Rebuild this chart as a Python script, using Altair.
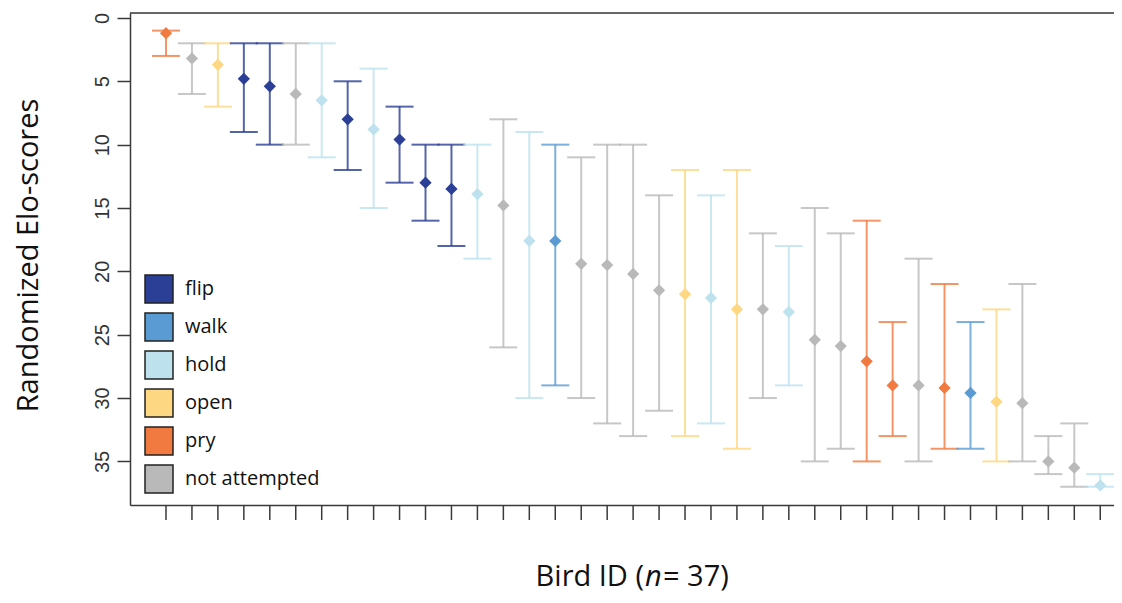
import altair as alt
import pandas as pd

# ---- data ----
birds = list(range(1, 38))
tactic = ["pry", "not attempted", "open", "flip", "flip", "not attempted", "hold", "flip", "hold", "flip",
          "flip", "flip", "hold", "not attempted", "hold", "walk", "not attempted", "not attempted", "not attempted", "not attempted",
          "open", "hold", "open", "not attempted", "hold", "not attempted", "not attempted", "pry", "pry", "not attempted",
          "pry", "walk", "open", "not attempted", "not attempted", "not attempted", "hold"]
score = [1.2, 3.2, 3.7, 4.8, 5.4, 6.0, 6.5, 8.0, 8.8, 9.6,
         13.0, 13.5, 13.9, 14.8, 17.6, 17.6, 19.4, 19.5, 20.2, 21.5,
         21.8, 22.1, 23.0, 23.0, 23.2, 25.4, 25.9, 27.1, 29.0, 29.0,
         29.2, 29.6, 30.3, 30.4, 35.0, 35.5, 36.9]
lower = [1, 2, 2, 2, 2, 2, 2, 5, 4, 7,
         10, 10, 10, 8, 9, 10, 11, 10, 10, 14,
         12, 14, 12, 17, 18, 15, 17, 16, 24, 19,
         21, 24, 23, 21, 33, 32, 36]
upper = [3, 6, 7, 9, 10, 10, 11, 12, 15, 13,
         16, 18, 19, 26, 30, 29, 30, 32, 33, 31,
         33, 32, 34, 30, 29, 35, 34, 35, 33, 35,
         34, 34, 35, 35, 36, 37, 37]
categories = ["flip", "walk", "hold", "open", "pry", "not attempted"]
colors = ["#2B3F96", "#5B9BD3", "#BDE2EE", "#FDD782", "#F07A40", "#B9B9B9"]
y_ticks = [0, 5, 10, 15, 20, 25, 30, 35]

df = pd.DataFrame({"bird": birds, "tactic": tactic, "score": score,
                   "lower": lower, "upper": upper})

W, H = 984, 492
FRAME = "#3a3a3a"

xscale = alt.Scale(domain=[-0.387, 37.53], nice=False, zero=False)
yscale = alt.Scale(domain=[-0.39, 38.44], reverse=True, nice=False, zero=False)
cscale = alt.Scale(domain=categories, range=colors)

legend = alt.Legend(title=None, orient="none", legendX=14, legendY=261,
                    symbolType="square", symbolSize=784,
                    symbolStrokeColor="#222222", symbolStrokeWidth=1.5,
                    symbolOpacity=1,
                    labelFont="Open Sans", labelFontSize=20, labelColor="#111111",
                    labelOffset=11, rowPadding=4, padding=0)
color_leg = alt.Color("tactic:N", scale=cscale, legend=legend)
color_enc = alt.Color("tactic:N", scale=cscale, legend=None)

x_enc = alt.X("bird:Q", scale=xscale,
              axis=alt.Axis(values=birds, labels=False, ticks=False, title=None, grid=False,
                            domainColor=FRAME, domainWidth=1.5))
y_axis = alt.Axis(values=y_ticks, title="Randomized Elo-scores", grid=False,
                  tickSize=13, tickWidth=1.5, tickColor=FRAME,
                  domainColor=FRAME, domainWidth=1.5,
                  labelAngle=270, labelAlign="center", labelBaseline="bottom",
                  labelPadding=5, labelFont="Liberation Sans", labelFontSize=20,
                  labelColor="#333333",
                  titleFont="Open Sans", titleFontSize=29, titleFontWeight="normal",
                  titleColor="#111111", titleAngle=270, titleAlign="center",
                  titleBaseline="alphabetic", titleX=-93, titleY=242)

base = alt.Chart(df)

bars = base.mark_rule(strokeWidth=2, opacity=0.8).encode(
    x=x_enc,
    y=alt.Y("lower:Q", scale=yscale, axis=y_axis),
    y2="upper:Q",
    color=color_enc,
)
cap_lo = base.mark_rule(strokeWidth=2, opacity=0.8, xOffset=-14, x2Offset=14).encode(
    x=alt.X("bird:Q", scale=xscale),
    x2="bird:Q",
    y=alt.Y("lower:Q", scale=yscale),
    color=color_enc,
)
cap_hi = base.mark_rule(strokeWidth=2, opacity=0.8, xOffset=-14, x2Offset=14).encode(
    x=alt.X("bird:Q", scale=xscale),
    x2="bird:Q",
    y=alt.Y("upper:Q", scale=yscale),
    color=color_enc,
)
points = base.mark_point(shape="diamond", filled=True, size=150, opacity=1).encode(
    x=alt.X("bird:Q", scale=xscale),
    y=alt.Y("score:Q", scale=yscale),
    color=color_leg,
)
# x-axis ticks below the frame, one per bird
xticks = base.mark_rule(color=FRAME, strokeWidth=1.5).encode(
    x=alt.X("bird:Q", scale=xscale),
    y=alt.value(H), y2=alt.value(H + 15),
)

top_border = alt.Chart(pd.DataFrame({"v": [0]})).mark_rule(color=FRAME, strokeWidth=1.5).encode(
    x=alt.value(0), x2=alt.value(W), y=alt.value(0))

title_df = pd.DataFrame({"v": [0]})
TY = 573
FS = 29
t1 = alt.Chart(title_df).mark_text(align="right", baseline="alphabetic", font="Open Sans",
                                   fontSize=FS, color="#111111").encode(
    x=alt.value(514), y=alt.value(TY), text=alt.value("Bird ID ("))
t2 = alt.Chart(title_df).mark_text(align="left", baseline="alphabetic", font="Open Sans",
                                   fontSize=FS, fontStyle="italic", color="#111111").encode(
    x=alt.value(515), y=alt.value(TY), text=alt.value("n"))
t3 = alt.Chart(title_df).mark_text(align="left", baseline="alphabetic", font="Open Sans",
                                   fontSize=FS, color="#111111").encode(
    x=alt.value(533), y=alt.value(TY), text=alt.value("= 37)"))

chart = alt.layer(bars, cap_lo, cap_hi, points, xticks, top_border, t1, t2, t3).resolve_scale(
    color="independent"
).properties(
    width=W, height=H,
    autosize=alt.AutoSizeParams(type="none"),
    padding={"left": 122, "top": 5, "right": 0, "bottom": 90},
).configure_view(stroke=None).configure(background="white")

chart.save("out.html", embed_options={"renderer": "svg", "actions": False})
